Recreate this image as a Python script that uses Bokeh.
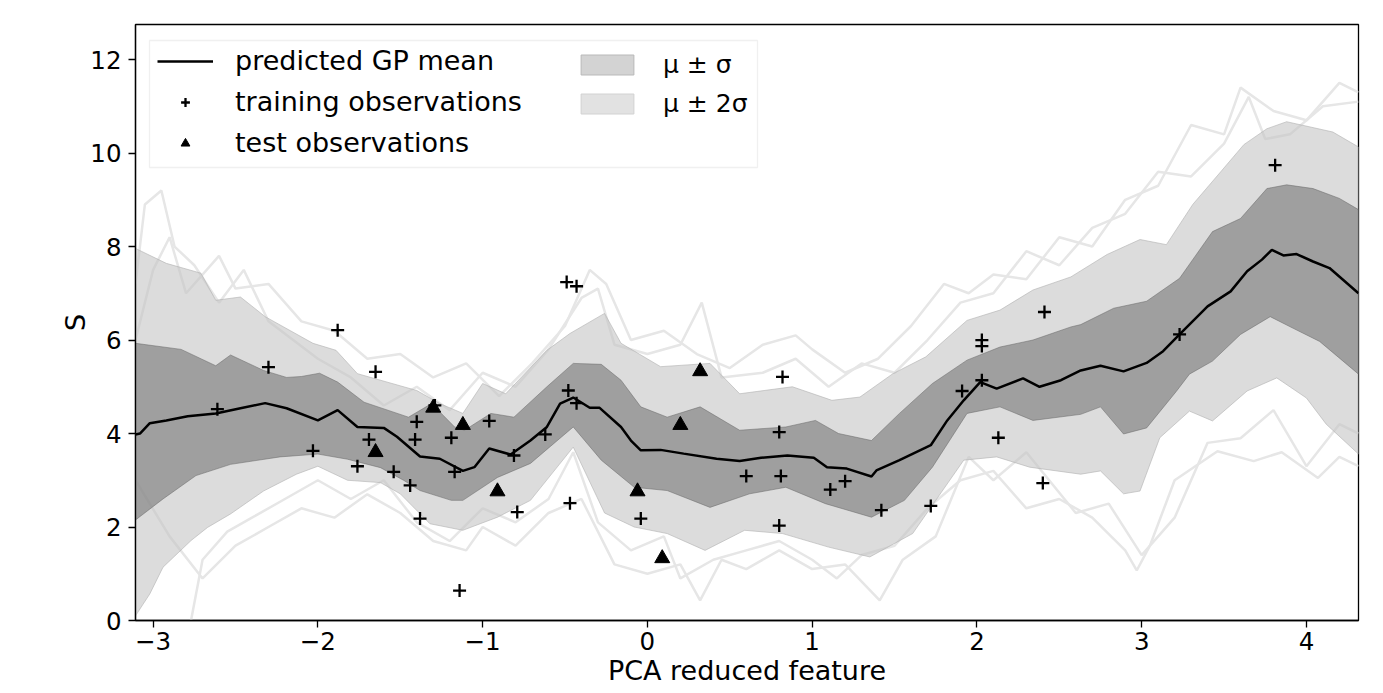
from bokeh.plotting import figure
from bokeh.models import Range1d, FixedTicker, Legend, LegendItem, BoxAnnotation
from bokeh.embed import file_html
from bokeh.resources import INLINE

# ---------------- data ----------------
mean_x = [-3.107, -3.08, -3.02, -2.92, -2.79, -2.62, -2.47, -2.32, -2.19, -2.00, -1.88, -1.76,
          -1.60, -1.52, -1.38, -1.26, -1.12, -1.05, -0.96, -0.83, -0.71, -0.61, -0.53, -0.45,
          -0.35, -0.29, -0.16, -0.10, -0.04, 0.08, 0.22, 0.42, 0.56, 0.69, 0.85, 1.01, 1.09,
          1.21, 1.36, 1.39, 1.53, 1.66, 1.72, 1.82, 1.92, 2.02, 2.12, 2.28, 2.38, 2.51, 2.63,
          2.75, 2.89, 3.03, 3.13, 3.23, 3.40, 3.54, 3.64, 3.73, 3.79, 3.86, 3.94, 4.04, 4.14, 4.316]
mean_y = [3.98, 4.00, 4.22, 4.28, 4.37, 4.43, 4.54, 4.65, 4.54, 4.28, 4.50, 4.14,
          4.12, 3.93, 3.51, 3.46, 3.20, 3.28, 3.68, 3.55, 3.85, 4.14, 4.64, 4.77,
          4.55, 4.55, 4.14, 3.85, 3.64, 3.65, 3.57, 3.46, 3.41, 3.48, 3.53, 3.48, 3.28,
          3.25, 3.08, 3.21, 3.43, 3.65, 3.75, 4.28, 4.71, 5.10, 4.96, 5.18, 5.00, 5.14, 5.35,
          5.45, 5.33, 5.51, 5.76, 6.12, 6.72, 7.04, 7.47, 7.72, 7.93, 7.81, 7.84, 7.68, 7.54, 7.00]

s1_up_x = [-3.107, -2.83, -2.62, -2.53, -2.33, -2.19, -2.10, -1.99, -1.88, -1.72, -1.45, -1.31,
           -1.17, -1.11, -0.95, -0.81, -0.61, -0.45, -0.28, -0.16, -0.04, 0.12, 0.32, 0.56,
           0.84, 1.02, 1.16, 1.36, 1.53, 1.73, 1.94, 2.14, 2.34, 2.57, 2.63, 2.83, 3.03, 3.23,
           3.43, 3.60, 3.76, 3.88, 4.04, 4.20, 4.316]
s1_up_y = [5.93, 5.80, 5.45, 5.68, 5.35, 5.20, 5.22, 5.29, 5.10, 4.67, 4.35, 4.64,
           4.14, 4.07, 4.43, 4.35, 5.00, 5.50, 5.48, 5.14, 4.57, 4.35, 4.57, 4.07,
           4.14, 4.28, 4.00, 3.85, 4.43, 5.07, 5.57, 5.85, 6.00, 6.28, 6.33, 6.68, 6.83, 7.32,
           8.32, 8.60, 9.24, 9.32, 9.24, 9.03, 8.79]
s1_lo_x = [-3.107, -2.94, -2.74, -2.53, -2.23, -2.00, -1.82, -1.62, -1.48, -1.38, -1.19, -1.12,
           -0.91, -0.71, -0.45, -0.28, -0.08, 0.12, 0.38, 0.62, 0.84, 1.08, 1.36, 1.56, 1.73,
           1.94, 2.14, 2.34, 2.63, 2.75, 2.89, 3.03, 3.21, 3.29, 3.43, 3.60, 3.78, 3.92, 4.08, 4.316]
s1_lo_y = [2.15, 2.60, 3.10, 3.34, 3.50, 3.56, 3.45, 3.27, 3.00, 2.78, 2.57, 2.57,
           3.06, 3.36, 4.14, 3.43, 2.85, 2.78, 2.42, 2.71, 2.85, 2.50, 2.21, 2.57, 3.28,
           4.43, 4.57, 4.28, 4.41, 4.57, 3.99, 4.12, 4.90, 5.27, 5.55, 6.12, 6.50, 6.25, 5.97, 5.27]

s2_up_x = [-3.107, -2.92, -2.71, -2.62, -2.47, -2.32, -2.03, -1.89, -1.76, -1.40, -1.26, -1.12,
           -1.00, -0.86, -0.61, -0.47, -0.26, -0.16, 0.08, 0.38, 0.56, 0.88, 1.12, 1.29, 1.49,
           1.69, 1.94, 2.14, 2.34, 2.57, 2.79, 2.99, 3.15, 3.31, 3.48, 3.62, 3.76, 3.88, 4.16, 4.316]
s2_up_y = [7.96, 7.64, 7.43, 6.85, 6.92, 6.50, 5.93, 5.78, 5.28, 4.92, 4.64, 4.43,
           5.07, 4.85, 5.78, 6.14, 6.57, 5.93, 5.43, 5.50, 4.85, 5.00, 4.71, 4.78, 5.28,
           5.64, 6.42, 6.64, 7.07, 7.35, 7.83, 8.15, 8.04, 8.90, 9.60, 10.18, 10.52, 10.67, 10.45, 10.13]
s2_lo_x = [-3.107, -3.02, -2.94, -2.77, -2.67, -2.53, -2.33, -2.13, -2.00, -1.82, -1.62, -1.50,
           -1.32, -1.12, -0.91, -0.71, -0.45, -0.26, -0.08, 0.12, 0.35, 0.59, 0.82, 1.10, 1.35,
           1.61, 1.75, 1.92, 2.12, 2.32, 2.63, 2.75, 2.89, 2.99, 3.11, 3.29, 3.43, 3.64, 3.82,
           4.00, 4.12, 4.316]
s2_lo_y = [0.10, 0.57, 1.14, 1.71, 1.99, 2.28, 2.77, 3.13, 3.30, 3.00, 2.95, 2.71,
           2.07, 1.93, 2.21, 2.57, 3.71, 2.30, 2.00, 1.86, 1.50, 1.93, 1.86, 1.57, 1.36,
           1.86, 2.57, 3.43, 3.50, 3.28, 3.13, 3.20, 2.71, 2.77, 3.91, 4.48, 4.27, 4.91, 5.19,
           4.76, 4.20, 3.56]

sampA_x = [-3.107, -3.05, -2.95, -2.87, -2.75, -2.60, -2.45, -2.30, -2.15, -2.00, -1.80, -1.60,
           -1.40, -1.20, -1.00, -0.80, -0.60, -0.40, -0.30, -0.20, 0.00, 0.20, 0.33, 0.45, 0.70,
           0.90, 1.10, 1.30, 1.50, 1.70, 1.90, 2.10, 2.30, 2.50, 2.70, 2.90, 3.10, 3.30, 3.50,
           3.65, 3.75, 3.90, 4.10, 4.316]
sampA_y = [7.2, 8.9, 9.2, 8.0, 7.6, 6.8, 7.5, 6.4, 6.0, 5.6, 5.2, 4.6,
           5.0, 4.5, 5.3, 5.0, 5.8, 6.9, 7.1, 5.9, 5.7, 5.9, 6.8, 5.2, 5.3,
           5.6, 5.0, 5.5, 5.3, 6.0, 6.8, 7.0, 7.9, 7.6, 8.4, 8.7, 9.6, 9.5, 10.2,
           11.2, 10.3, 10.4, 11.0, 11.1]
sampB_x = [-2.77, -2.70, -2.55, -2.40, -2.20, -2.00, -1.80, -1.60, -1.40, -1.20, -1.00, -0.80,
           -0.60, -0.45, -0.30, -0.10, 0.10, 0.20, 0.40, 0.60, 0.80, 1.00, 1.15, 1.30, 1.50, 1.70,
           1.90, 2.10, 2.30, 2.50, 2.70, 2.90, 2.97, 3.05, 3.20, 3.46, 3.68, 3.85, 4.07, 4.20, 4.316]
sampB_y = [0.0, 1.3, 1.9, 2.2, 2.6, 3.0, 2.6, 3.0, 2.1, 1.7, 2.4, 2.1,
           2.6, 3.6, 2.1, 1.5, 1.8, 0.9, 1.3, 1.5, 1.7, 1.3, 0.9, 1.4, 1.6, 2.4,
           3.0, 3.2, 2.4, 2.6, 2.2, 1.5, 1.07, 1.6, 3.0, 3.62, 3.41, 3.6, 3.05, 3.5, 3.3]
sampC_x = [-3.107, -2.90, -2.70, -2.50, -2.30, -2.10, -1.90, -1.70, -1.50, -1.30, -1.10, -1.00,
           -0.80, -0.60, -0.40, -0.20, 0.00, 0.20, 0.32, 0.45, 0.60, 0.80, 1.00, 1.20, 1.41, 1.55,
           1.75, 1.95, 2.10, 2.30, 2.60, 2.80, 3.00, 3.20, 3.40, 3.60, 3.80, 4.00, 4.20, 4.316]
sampC_y = [3.0, 1.8, 0.9, 1.6, 2.0, 2.4, 2.2, 2.7, 2.3, 1.7, 1.5, 2.0,
           1.6, 2.3, 2.6, 1.2, 1.0, 1.2, 0.43, 1.3, 1.1, 1.5, 1.1, 1.2, 0.43, 1.3,
           1.8, 3.5, 3.0, 3.6, 2.3, 2.5, 1.4, 2.2, 3.8, 3.9, 4.5, 3.3, 4.2, 4.0]
sampD_x = [-3.107, -3.00, -2.90, -2.80, -2.60, -2.50, -2.30, -2.10, -1.90, -1.70, -1.50, -1.30,
           -1.10, -0.90, -0.70, -0.50, -0.35, -0.25, -0.10, 0.10, 0.30, 0.50, 0.70, 0.90, 1.00,
           1.20, 1.40, 1.60, 1.80, 1.95, 2.10, 2.30, 2.50, 2.70, 2.90, 3.10, 3.30, 3.50, 3.60,
           3.80, 4.00, 4.20, 4.316]
sampD_y = [6.0, 7.5, 8.2, 7.0, 7.8, 7.1, 7.2, 6.4, 6.2, 5.6, 5.7, 5.2,
           5.5, 4.8, 5.5, 6.3, 7.5, 7.2, 6.0, 6.2, 5.7, 5.4, 5.9, 6.1, 5.8,
           5.3, 5.6, 6.3, 7.2, 7.0, 7.4, 7.3, 8.2, 8.0, 9.0, 9.3, 10.6, 10.4, 11.4,
           10.9, 10.7, 11.5, 11.3]

train_x = [-2.61, -2.30, -2.03, -1.88, -1.76, -1.69, -1.65, -1.54, -1.44, -1.41, -1.40, -1.38,
           -1.29, -1.19, -1.17, -1.14, -0.96, -0.81, -0.79, -0.62, -0.49, -0.43, -0.48, -0.43,
           -0.47, -0.04, 0.82, 0.80, 0.60, 0.81, 0.80, 1.11, 1.20, 1.42, 1.72, 1.91, 2.03,
           2.03, 2.03, 2.13, 2.41, 2.40, 3.23, 3.81]
train_y = [4.52, 5.42, 3.63, 6.21, 3.30, 3.87, 5.32, 3.18, 2.89, 3.87, 4.25, 2.18,
           4.60, 3.91, 3.18, 0.64, 4.27, 3.53, 2.32, 3.98, 7.24, 7.15, 4.92, 4.65,
           2.51, 2.18, 5.21, 4.03, 3.09, 3.09, 2.03, 2.80, 2.98, 2.36, 2.45, 4.91, 6.00,
           5.87, 5.14, 3.91, 6.60, 2.94, 6.12, 9.74]
test_x = [-1.65, -1.30, -1.12, -0.91, -0.06, 0.09, 0.20, 0.32]
test_y = [3.60, 4.55, 4.18, 2.76, 2.76, 1.33, 4.18, 5.33]

x_ticks = [-3, -2, -1, 0, 1, 2, 3, 4]
x_tick_labels = ["\u22123", "\u22122", "\u22121", "0", "1", "2", "3", "4"]
y_ticks = [0, 2, 4, 6, 8, 10, 12]

FONT = "DejaVu Sans"
X0, X1, Y0, Y1 = -3.107, 4.316, 0.0, 12.75
FW, FH = 1223, 596  # frame size in px

p = figure(width=1383, height=693, output_backend="svg", toolbar_location=None,
           x_range=Range1d(X0, X1), y_range=Range1d(Y0, Y1),
           min_border_left=135, min_border_right=25, min_border_top=24, min_border_bottom=73)
p.xgrid.visible = False
p.ygrid.visible = False
p.outline_line_color = "black"
p.outline_line_width = 1.3
p.background_fill_color = "white"
p.border_fill_color = "white"

# sample lines (beneath the bands)
for sx, sy in [(sampA_x, sampA_y), (sampB_x, sampB_y), (sampC_x, sampC_y), (sampD_x, sampD_y)]:
    p.line(sx, sy, line_color="#e6e6e6", line_width=2.5)

# bands
band2_xs = s2_up_x + s2_lo_x[::-1]
band2_ys = s2_up_y + s2_lo_y[::-1]
band1_xs = s1_up_x + s1_lo_x[::-1]
band1_ys = s1_up_y + s1_lo_y[::-1]
p.patch(band2_xs, band2_ys, fill_color="#c4c4c4", fill_alpha=0.6,
        line_color="#b0b0b0", line_alpha=0.6, line_width=1)
p.patch(band1_xs, band1_ys, fill_color="#767676", fill_alpha=0.6,
        line_color="#666666", line_alpha=0.5, line_width=1)

mean_r = p.line(mean_x, mean_y, line_color="black", line_width=2.5)
train_r = p.scatter(train_x, train_y, marker="cross", size=13, line_width=2.3, line_color="black")
test_r = p.scatter(test_x, test_y, marker="triangle", size=15, fill_color="black", line_color="black")

# legend proxies (hidden copies of the bands, lighter legend colours)
s1_proxy = p.patch(band1_xs, band1_ys, fill_color="#d3d3d3", line_color="#b9b9b9",
                   line_width=1, visible=False)
s2_proxy = p.patch(band2_xs, band2_ys, fill_color="#e2e2e2", line_color="#d2d2d2",
                   line_width=1, visible=False)

# legend frame (pixel box converted to data units)
def dx(px):
    return X0 + (px - 135) * (X1 - X0) / FW
def dy(py):
    return Y0 + (620 - py) * (Y1 - Y0) / FH

frame = BoxAnnotation(left=dx(149), right=dx(757), top=dy(40), bottom=dy(167),
                      fill_color="white", fill_alpha=0.8, line_color="#cccccc", line_width=1.3)
p.add_layout(frame)

def make_legend(items, left_px, bottom_px):
    lg = Legend(items=items, location=(left_px - 135, 620 - bottom_px))
    lg.label_text_font = FONT
    lg.label_text_font_size = "27px"
    lg.label_text_color = "black"
    lg.glyph_width = 56
    lg.glyph_height = 22
    lg.label_height = 22
    lg.label_standoff = 22
    lg.spacing = 10
    lg.padding = 8
    lg.margin = 0
    lg.border_line_color = None
    lg.background_fill_alpha = 0
    return lg

leg1 = make_legend([
    LegendItem(label="predicted GP mean", renderers=[mean_r]),
    LegendItem(label="training observations", renderers=[train_r]),
    LegendItem(label="test observations", renderers=[test_r]),
], 157, 158)
leg2 = make_legend([
    LegendItem(label="\u03bc \u00b1 \u03c3", renderers=[s1_proxy]),
    LegendItem(label="\u03bc \u00b1 2\u03c3", renderers=[s2_proxy]),
], 574, 118)
leg2.glyph_width = 66
leg2.glyph_height = 25
leg2.label_standoff = 23
leg2.label_text_font_size = "25px"
p.add_layout(leg1, "center")
p.add_layout(leg2, "center")

# axes
p.xaxis.ticker = FixedTicker(ticks=x_ticks)
p.xaxis.major_label_overrides = {t: l for t, l in zip(x_ticks, x_tick_labels)}
p.yaxis.ticker = FixedTicker(ticks=y_ticks)
for ax in (p.xaxis[0], p.yaxis[0]):
    ax.axis_line_color = "black"
    ax.axis_line_width = 1.3
    ax.major_tick_line_color = "black"
    ax.major_tick_line_width = 1.3
    ax.major_tick_out = 7
    ax.major_tick_in = 0
    ax.minor_tick_line_color = None
    ax.major_label_text_font = FONT
    ax.major_label_text_font_size = "24.5px"
    ax.major_label_text_color = "black"
    ax.axis_label_text_font = FONT
    ax.axis_label_text_font_size = "27px"
    ax.axis_label_text_font_style = "normal"
    ax.axis_label_text_color = "black"
p.xaxis.axis_label = "PCA reduced feature"
p.yaxis.axis_label = "S"
p.xaxis.major_label_standoff = 4
p.xaxis.axis_label_standoff = 2
p.yaxis.major_label_standoff = 7
p.yaxis.axis_label_standoff = -4

open("out.html", "w").write(file_html(p, INLINE))
